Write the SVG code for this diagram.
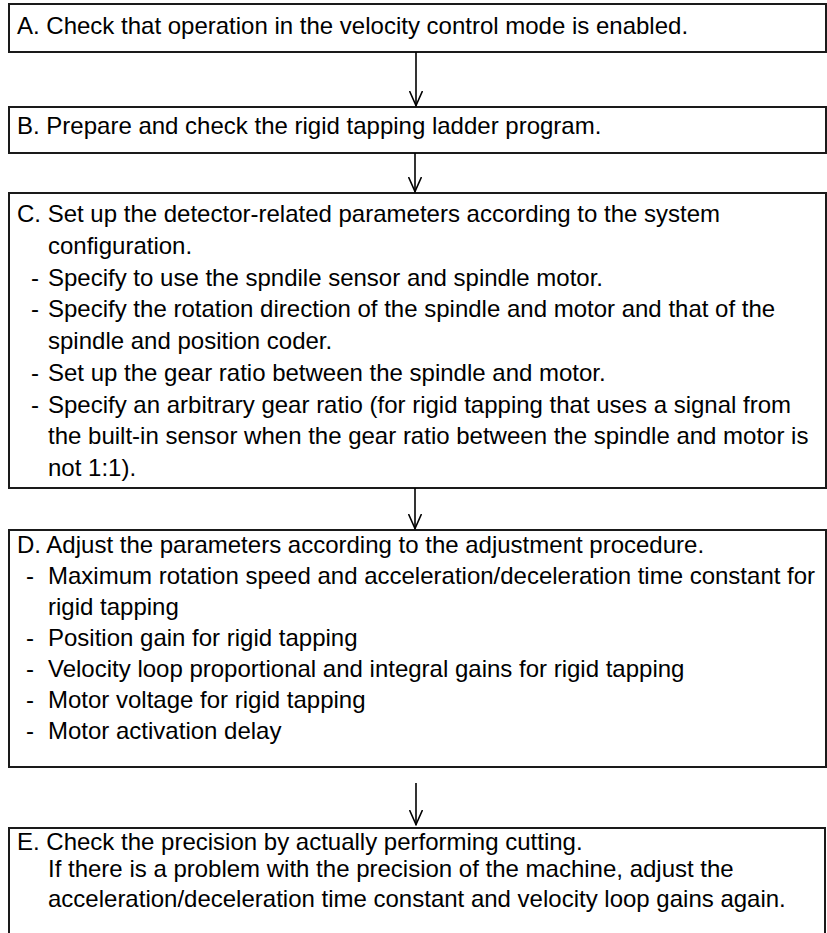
<svg xmlns="http://www.w3.org/2000/svg" width="827" height="933" viewBox="0 0 827 933">
<style>
.box{fill:#fff;stroke:#1a1a1a;stroke-width:2}
text{font-family:"Liberation Sans",Arial,sans-serif;font-size:24px;fill:#000}
.conn line{stroke:#000;stroke-width:1.6;fill:none}
</style>
<defs>
<marker id="arr" viewBox="0 0 16 14" refX="15.5" refY="7" markerWidth="16" markerHeight="14" markerUnits="userSpaceOnUse" orient="auto">
<path d="M0.5,0.5 L15,7 L0.5,13.5" fill="none" stroke="#000" stroke-width="1.6"/>
</marker>
</defs>
<rect width="827" height="933" fill="#fff"/>
<g id="nodeA">
<rect class="box" x="9" y="4" width="817" height="48"/>
<text x="17" y="34">A. Check that operation in the velocity control mode is enabled.</text>
</g>
<g id="nodeB">
<rect class="box" x="9" y="107" width="817" height="46"/>
<text x="17" y="134">B. Prepare and check the rigid tapping ladder program.</text>
</g>
<g id="nodeC">
<rect class="box" x="9" y="193" width="817" height="295"/>
<text x="17" y="222">C. Set up the detector-related parameters according to the system</text>
<text x="48" y="253.75">configuration.</text>
<text y="285.5"><tspan x="31">-</tspan><tspan x="48">Specify to use the spndile sensor and spindle motor.</tspan></text>
<text y="317.25"><tspan x="31">-</tspan><tspan x="48">Specify the rotation direction of the spindle and motor and that of the</tspan></text>
<text x="48" y="349">spindle and position coder.</text>
<text y="380.75"><tspan x="31">-</tspan><tspan x="48">Set up the gear ratio between the spindle and motor.</tspan></text>
<text y="412.5"><tspan x="31">-</tspan><tspan x="48">Specify an arbitrary gear ratio (for rigid tapping that uses a signal from</tspan></text>
<text x="48" y="444.25">the built-in sensor when the gear ratio between the spindle and motor is</text>
<text x="48" y="476">not 1:1).</text>
</g>
<g id="nodeD">
<rect class="box" x="9" y="530" width="817" height="237"/>
<text x="17" y="553">D. Adjust the parameters according to the adjustment procedure.</text>
<text y="584"><tspan x="26">-</tspan><tspan x="48">Maximum rotation speed and acceleration/deceleration time constant for</tspan></text>
<text x="48" y="615">rigid tapping</text>
<text y="646"><tspan x="26">-</tspan><tspan x="48">Position gain for rigid tapping</tspan></text>
<text y="677"><tspan x="26">-</tspan><tspan x="48">Velocity loop proportional and integral gains for rigid tapping</tspan></text>
<text y="708"><tspan x="26">-</tspan><tspan x="48">Motor voltage for rigid tapping</tspan></text>
<text y="739"><tspan x="26">-</tspan><tspan x="48">Motor activation delay</tspan></text>
</g>
<g id="nodeE">
<rect class="box" x="9" y="828" width="816" height="120"/>
<text x="17" y="850">E. Check the precision by actually performing cutting.</text>
<text x="48" y="877">If there is a problem with the precision of the machine, adjust the</text>
<text x="48" y="907">acceleration/deceleration time constant and velocity loop gains again.</text>
</g>
<g id="connectors" class="conn">
<line x1="416" y1="52" x2="416" y2="106" marker-end="url(#arr)"/>
<line x1="415" y1="153" x2="415" y2="192" marker-end="url(#arr)"/>
<line x1="415" y1="488" x2="415" y2="529" marker-end="url(#arr)"/>
<line x1="416" y1="783" x2="416" y2="825" marker-end="url(#arr)"/>
</g>
</svg>
